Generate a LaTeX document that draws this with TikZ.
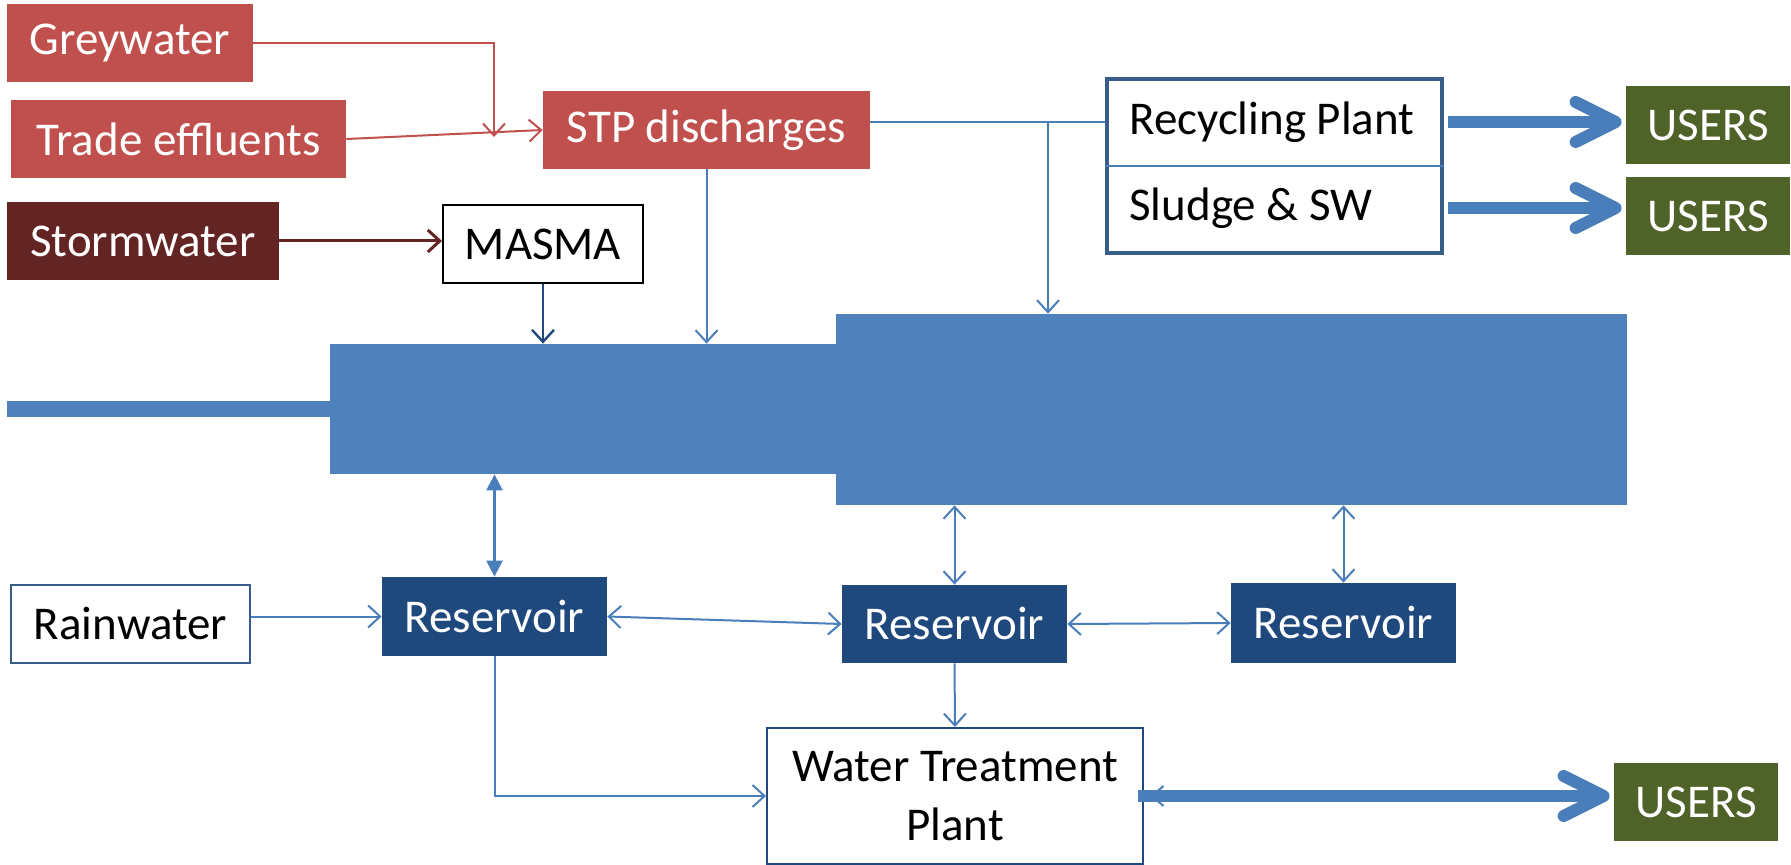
\documentclass[tikz,border=0pt]{standalone}
\usepackage{fontspec}
\setmainfont{Carlito}
\usetikzlibrary{arrows.meta}
\definecolor{effred}{HTML}{C0504D}
\definecolor{stormred}{HTML}{632523}
\definecolor{riverblue}{HTML}{4F81BD}
\definecolor{flowblue}{HTML}{4A7EBB}
\definecolor{resblue}{HTML}{1F497D}
\definecolor{plantblue}{HTML}{385D8A}
\definecolor{usergreen}{HTML}{4F6228}
\tikzset{
  box/.style={rectangle, inner sep=0pt, minimum height=39pt, font=\fontsize{23.5}{29.5}\selectfont},
  redbox/.style={box, fill=effred, text=white},
  stormbox/.style={box, fill=stormred, text=white},
  plainbox/.style={box, fill=white, draw=#1, line width=1pt},
  resbox/.style={box, fill=resblue, text=white, minimum width=112.5pt},
  userbox/.style={box, fill=usergreen, text=white, minimum width=82pt},
  river/.style={rectangle, inner sep=0pt, fill=riverblue},
  flow/.style={draw=flowblue, line width=1pt, -{Straight Barb[length=6pt,width=11pt]}},
  twoway/.style={draw=flowblue, line width=1pt, {Straight Barb[length=6pt,width=11pt]}-{Straight Barb[length=6pt,width=11pt]}},
  bigflow/.style={draw=flowblue, line width=6pt, -{Straight Barb[length=20pt,width=20pt,round]}}
}
\begin{document}
\begin{tikzpicture}[x=0.5pt, y=-0.5pt]
\useasboundingbox (0,0) rectangle (1791,865);
% sources
\node[redbox, minimum width=123pt] (grey) at (130,43) {Greywater};
\node[redbox, minimum width=167.5pt] (trade) at (178.5,139) {Trade effluents};
\node[stormbox, minimum width=136pt] (storm) at (143,241) {Stormwater};
\node[redbox, minimum width=163.5pt] (stp) at (706.5,130) {STP discharges};
\node[plainbox=black, minimum width=100pt] (masma) at (543,244) {MASMA};
\coordinate (merge) at (494,137);
\draw[flow, draw=effred] (grey.east) -| (merge);
\draw[flow, draw=effred] (trade.east) -- (stp.west);
\draw[flow, draw=stormred, line width=1.5pt] (storm.east) -- (storm.east -| masma.west);
% recycling plant
\node[rectangle, draw=plantblue, line width=2pt, fill=white, minimum width=167.5pt, minimum height=87pt] (recbox) at (1274.5,166) {};
\draw[draw=flowblue, line width=0.8pt] (recbox.west) -- (recbox.east);
\node[box, minimum height=0pt, anchor=west] (recyc) at ([shift={(24,-44)}]recbox.west) {Recycling Plant};
\node[box, minimum height=0pt, anchor=west] (sludge) at ([shift={(24,42)}]recbox.west) {Sludge \& SW};
\node[userbox] (users1) at (1708,125) {USERS};
\node[userbox] (users2) at (1708,216) {USERS};
\draw[bigflow, shorten <=2pt, shorten >=2pt] (recyc -| recbox.east) -- (recyc -| users1.west);
\draw[bigflow, shorten <=2pt, shorten >=2pt] (sludge -| recbox.east) -- (sludge -| users2.west);
% river
\node[river, minimum width=253pt, minimum height=65pt] (riverL) at (583,409) {};
\node[river, minimum width=395.5pt, minimum height=95.5pt] (riverR) at (1231.5,409.5) {};
\coordinate (upstream) at (7,409);
\draw[draw=riverblue, line width=8pt] (upstream) -- (riverL.west);
\draw[flow, draw=resblue, line width=1.2pt] (masma.south) -- (masma.south |- riverL.north);
\draw[flow] (stp.south) -- (stp.south |- riverL.north);
\coordinate (split) at (1048,122);
\draw[draw=flowblue, line width=1pt] (stp.east |- recyc) -- (recyc -| recbox.west);
\draw[flow] (split) -- (split |- riverR.north);
% reservoirs
\node[plainbox=plantblue, minimum width=119.5pt] (rain) at (130.5,624) {Rainwater};
\node[resbox, minimum height=39.5pt] (res1) at (494.5,616.5) {Reservoir};
\node[resbox] (res2) at (954.5,624) {Reservoir};
\node[resbox, minimum height=40pt] (res3) at (1343.5,623) {Reservoir};
\node[plainbox=resblue, minimum width=188pt, minimum height=68pt, align=center] (wtp) at (955,796) {Water Treatment\\Plant};
\node[userbox] (users3) at (1696,802) {USERS};
\draw[draw=flowblue, line width=1.2pt, {Triangle[length=8pt,width=8pt]}-{Triangle[length=8pt,width=8pt]}] (riverL.south -| res1.north) -- (res1.north);
\draw[twoway] (riverR.south -| res2.north) -- (res2.north);
\draw[twoway] (riverR.south -| res3.north) -- (res3.north);
\draw[flow] (rain.east |- res1.west) -- (res1.west);
\draw[twoway] (res1.east) -- (res2.west);
\draw[twoway] (res2.east) -- (res3.west);
\draw[flow] (res2.south) -- (wtp.north);
\draw[flow] (res1.south) |- (wtp.west);
\draw[bigflow, shorten <=-3pt, shorten >=2pt] (wtp.east) -- (wtp.east -| users3.west);
\draw[draw=flowblue, line width=1pt, {Straight Barb[length=6pt,width=10pt]}-] ([xshift=3pt]wtp.east) -- ++(20,0);
\end{tikzpicture}
\end{document}
